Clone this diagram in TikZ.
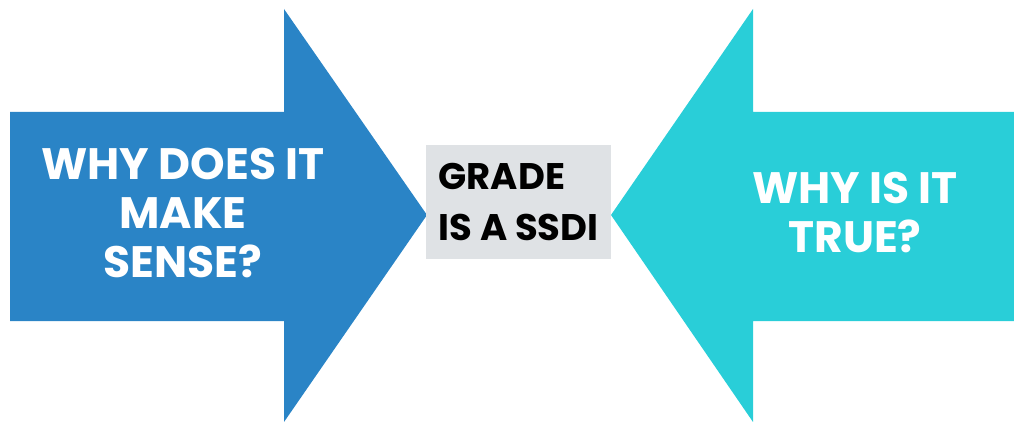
\documentclass[tikz,border=0pt]{standalone}
\usepackage{fontspec}
\setmainfont{Poppins}

\definecolor{senseblue}{HTML}{2A84C6}
\definecolor{truecyan}{HTML}{29CED8}
\definecolor{claimgray}{HTML}{DFE2E5}

\tikzset{
  bigtext/.style={text=white, font=\bfseries\fontsize{44}{49}\selectfont, align=center, inner sep=0pt},
  claimbox/.style={fill=claimgray, text=black, font=\bfseries\fontsize{37}{51}\selectfont,
    minimum width=185pt, minimum height=113pt, inner sep=0pt, align=left},
}

\begin{document}
\begin{tikzpicture}[x=1pt,y=-1pt]
\useasboundingbox (0,0) rectangle (1014,422);
% arrow pointing right
\fill[senseblue] (10,112) -- (284,112) -- (284,9) -- (427,215) -- (284,422) -- (284,321) -- (10,321) -- cycle;
% arrow pointing left
\fill[truecyan] (1014,112) -- (753,112) -- (753,9) -- (611,215) -- (753,422) -- (753,321) -- (1014,321) -- cycle;
\node[bigtext] (sense) at (183,213) {WHY DOES IT\\MAKE\\SENSE?};
\node[bigtext] (true) at (855,213) {WHY IS IT\\TRUE?};
\node[claimbox] (claim) at (518.5,202) {GRADE\\IS A SSDI};
\end{tikzpicture}
\end{document}
